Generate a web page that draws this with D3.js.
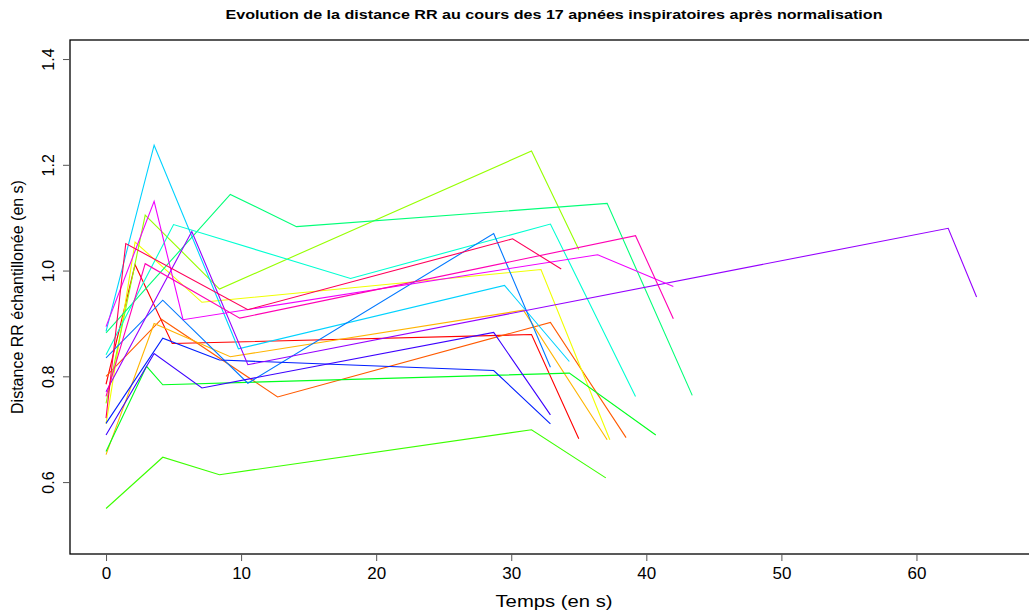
<!DOCTYPE html>
<html><head><meta charset="utf-8">
<script src="https://cdn.jsdelivr.net/npm/d3@7"></script>
<style>body{margin:0;background:#fff}svg{display:block}text{font-family:"Liberation Sans",Arial,sans-serif}</style>
</head><body>
<script>
// 17 apnées, colours = rainbow(17)
const apnea = d3.range(1, 18).map(i => "Apnée " + i);
const times = [
  [0, 2.15, 4.9, 31.5, 35.0],     // red
  [0, 4.1, 12.7, 32.9, 38.5],     // orange
  [0, 3.56, 9.2, 30.9, 37.1],     // orange-yellow
  [0, 2.15, 7.1, 32.2, 37.3],     // yellow
  [0, 2.9, 8.4, 31.5, 35.0],      // yellow-green
  [0, 4.2, 8.4, 31.5, 37.0],      // green
  [0, 3.0, 4.2, 34.3, 40.7],      // green 2
  [0, 9.2, 14.1, 37.1, 43.4],     // spring green
  [0, 5.0, 18.1, 32.9, 39.2],     // aqua
  [0, 3.56, 9.8, 29.5, 34.3],     // sky blue
  [0, 4.2, 10.5, 28.7, 32.9],     // azure
  [0, 4.2, 8.4, 28.7, 32.9],      // blue
  [0, 3.56, 7.1, 28.7, 32.9],     // blue-violet
  [0, 6.35, 10.5, 62.35, 64.45],  // purple
  [0, 3.56, 5.7, 36.4, 42.0],     // magenta
  [0, 2.9, 9.9, 39.2, 42.0],      // rose
  [0, 1.46, 10.5, 30.1, 33.7]     // pink-red
];
const values = [
  [0.785, 1.011, 0.862, 0.879, 0.682],
  [0.800, 0.908, 0.761, 0.902, 0.684],
  [0.652, 0.900, 0.837, 0.925, 0.680],
  [0.710, 1.054, 0.940, 1.002, 0.680],
  [0.749, 1.105, 0.965, 1.226, 1.040],
  [0.550, 0.647, 0.614, 0.699, 0.608],
  [0.658, 0.819, 0.784, 0.806, 0.689],
  [0.882, 1.144, 1.083, 1.127, 0.764],
  [0.841, 1.087, 0.985, 1.088, 0.762],
  [0.885, 1.237, 0.852, 0.972, 0.828],
  [0.835, 0.944, 0.787, 1.070, 0.817],
  [0.711, 0.872, 0.831, 0.811, 0.710],
  [0.689, 0.843, 0.778, 0.883, 0.727],
  [0.771, 1.074, 0.822, 1.080, 0.950],
  [0.894, 1.131, 0.907, 1.030, 0.970],
  [0.762, 1.013, 0.910, 1.066, 0.909],
  [0.721, 1.051, 0.926, 1.060, 1.003]
];
const xTicks = [0, 10, 20, 30, 40, 50, 60];
const yTicks = [0.6, 0.8, 1.0, 1.2, 1.4];
const titleText = "Evolution de la distance RR au cours des 17 apnées inspiratoires après normalisation";
const xLabel = "Temps (en s)";
const yLabel = "Distance RR échantillonée (en s)";

const W = 1029, H = 612;
const xlim = [0, 66.7], ylim = [0.5, 1.4];
const ex = (xlim[1]-xlim[0])*0.04, ey = (ylim[1]-ylim[0])*0.04;
const L = 70, R = 1043, T = 40, B = 554;
const x = d3.scaleLinear().domain([xlim[0]-ex, xlim[1]+ex]).range([L, R]);
const y = d3.scaleLinear().domain([ylim[0]-ey, ylim[1]+ey]).range([B, T]);
const color = i => d3.hsl(i * 360 / 17, 1, 0.5).formatHex();

const svg = d3.select("body").append("svg").attr("width", W).attr("height", H);

const line = d3.line().x(d => x(d[0])).y(d => y(d[1]));
svg.append("g").selectAll("path").data(apnea).join("path")
  .attr("d", (d, i) => line(times[i].map((t, j) => [t, values[i][j]])))
  .attr("fill", "none").attr("stroke", (d, i) => color(i)).attr("stroke-width", 1.1);

// box
svg.append("rect").attr("x", L).attr("y", T).attr("width", R - L).attr("height", B - T)
  .attr("fill", "none").attr("stroke", "#000").attr("stroke-width", 1.3);

// x axis
const gx = svg.append("g").attr("transform", `translate(0,${B})`)
  .call(d3.axisBottom(x).tickValues(xTicks).tickFormat(d3.format("d")).tickSize(7).tickPadding(6));
gx.select(".domain").remove();
gx.selectAll("line").attr("stroke", "#555");
gx.selectAll("text").attr("font-size", 17).attr("fill", "#000")
  .attr("font-family", "Liberation Sans, Arial, sans-serif");

// y axis
const gy = svg.append("g").attr("transform", `translate(${L},0)`)
  .call(d3.axisLeft(y).tickValues(yTicks).tickFormat(d3.format(".1f")).tickSize(7));
gy.select(".domain").remove();
gy.selectAll("line").attr("stroke", "#555");
gy.selectAll("text").attr("font-size", 16).attr("fill", "#000")
  .attr("font-family", "Liberation Sans, Arial, sans-serif")
  .attr("x", null).attr("dy", null)
  .attr("text-anchor", "middle")
  .attr("transform", d => `translate(-22,0) rotate(-90)`)
  .attr("y", 0).attr("dy", "0.35em");

svg.append("text").attr("x", 554).attr("y", 19).attr("text-anchor", "middle")
  .attr("font-size", 13).attr("font-weight", "bold").attr("textLength", 657)
  .attr("lengthAdjust", "spacingAndGlyphs").text(titleText);

svg.append("text").attr("x", 554).attr("y", 607).attr("text-anchor", "middle")
  .attr("font-size", 17).attr("textLength", 117).attr("lengthAdjust", "spacingAndGlyphs")
  .text(xLabel);

svg.append("text").attr("transform", `translate(23,${(T + B) / 2}) rotate(-90)`)
  .attr("text-anchor", "middle").attr("font-size", 16).text(yLabel);
</script>
</body></html>
